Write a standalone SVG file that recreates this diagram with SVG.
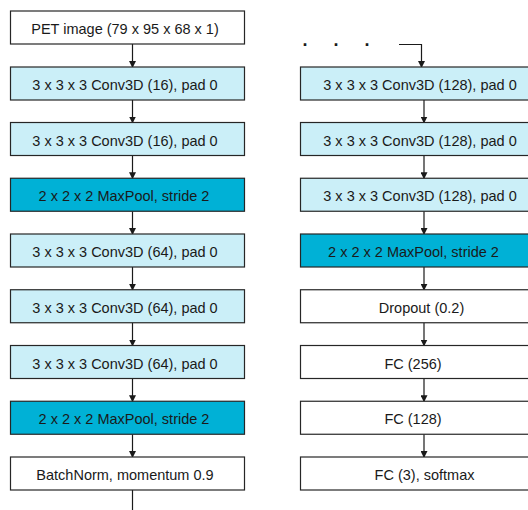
<svg xmlns="http://www.w3.org/2000/svg" width="528" height="510" viewBox="0 0 528 510">
<style>
.b{stroke:#262626;stroke-width:1.2}
.w{fill:#ffffff}
.l{fill:#cbeff8}
.d{fill:#00b1d6}
.t{font-family:"Liberation Sans",Arial,sans-serif;font-size:14.5px;fill:#1a1a1a;text-anchor:middle}
.dots{font-size:18px;font-weight:bold}
.c{stroke:#1a1a1a;stroke-width:1.2;fill:none}
</style>
<defs>
<marker id="ah" markerWidth="7" markerHeight="7" refX="6" refY="3.5" orient="auto" markerUnits="userSpaceOnUse">
<path d="M0,0 L7,3.5 L0,7 Z" fill="#1a1a1a"/>
</marker>
</defs>
<rect width="528" height="510" fill="#ffffff"/>
<g id="connectors">
<line class="c" x1="132.5" y1="44" x2="132.5" y2="67" marker-end="url(#ah)"/>
<line class="c" x1="132.5" y1="100" x2="132.5" y2="122.5" marker-end="url(#ah)"/>
<line class="c" x1="132.5" y1="155.5" x2="132.5" y2="178.25" marker-end="url(#ah)"/>
<line class="c" x1="132.5" y1="211.25" x2="132.5" y2="234" marker-end="url(#ah)"/>
<line class="c" x1="132.5" y1="267" x2="132.5" y2="289.75" marker-end="url(#ah)"/>
<line class="c" x1="132.5" y1="322.75" x2="132.5" y2="345.5" marker-end="url(#ah)"/>
<line class="c" x1="132.5" y1="378.5" x2="132.5" y2="401.25" marker-end="url(#ah)"/>
<line class="c" x1="132.5" y1="434.25" x2="132.5" y2="457" marker-end="url(#ah)"/>
<line class="c" x1="132.5" y1="490" x2="132.5" y2="512"/>
<polyline class="c" points="399,44.5 421.5,44.5 421.5,67" marker-end="url(#ah)"/>
<line class="c" x1="424" y1="100" x2="424" y2="122.5" marker-end="url(#ah)"/>
<line class="c" x1="424" y1="155.5" x2="424" y2="178.25" marker-end="url(#ah)"/>
<line class="c" x1="424" y1="211.25" x2="424" y2="234" marker-end="url(#ah)"/>
<line class="c" x1="424" y1="267" x2="424" y2="289.75" marker-end="url(#ah)"/>
<line class="c" x1="424" y1="322.75" x2="424" y2="345.5" marker-end="url(#ah)"/>
<line class="c" x1="424" y1="378.5" x2="424" y2="401.25" marker-end="url(#ah)"/>
<line class="c" x1="424" y1="434.25" x2="424" y2="457" marker-end="url(#ah)"/>
</g>
<g id="n_pet"><rect class="b w" x="10.5" y="11" width="234" height="33"/><text class="t" x="125" y="34">PET image (79 x 95 x 68 x 1)</text></g>
<g id="n_l1"><rect class="b l" x="10.5" y="67" width="234" height="33"/><text class="t" x="125" y="90">3 x 3 x 3 Conv3D (16), pad 0</text></g>
<g id="n_l2"><rect class="b l" x="10.5" y="122.5" width="234" height="33"/><text class="t" x="125" y="145.5">3 x 3 x 3 Conv3D (16), pad 0</text></g>
<g id="n_l3"><rect class="b d" x="10.5" y="178.25" width="234" height="33"/><text class="t" x="124" y="201.25">2 x 2 x 2 MaxPool, stride 2</text></g>
<g id="n_l4"><rect class="b l" x="10.5" y="234" width="234" height="33"/><text class="t" x="125" y="257">3 x 3 x 3 Conv3D (64), pad 0</text></g>
<g id="n_l5"><rect class="b l" x="10.5" y="289.75" width="234" height="33"/><text class="t" x="125" y="312.75">3 x 3 x 3 Conv3D (64), pad 0</text></g>
<g id="n_l6"><rect class="b l" x="10.5" y="345.5" width="234" height="33"/><text class="t" x="125" y="368.5">3 x 3 x 3 Conv3D (64), pad 0</text></g>
<g id="n_l7"><rect class="b d" x="10.5" y="401.25" width="234" height="33"/><text class="t" x="124" y="424.25">2 x 2 x 2 MaxPool, stride 2</text></g>
<g id="n_l8"><rect class="b w" x="10.5" y="457" width="234" height="33"/><text class="t" x="125" y="480">BatchNorm, momentum 0.9</text></g>
<g id="n_dots"><text class="t dots" x="305 336 367" y="46">...</text></g>
<g id="n_r1"><rect class="b l" x="300.5" y="67" width="240" height="33"/><text class="t" x="420" y="90">3 x 3 x 3 Conv3D (128), pad 0</text></g>
<g id="n_r2"><rect class="b l" x="300.5" y="122.5" width="240" height="33"/><text class="t" x="420" y="145.5">3 x 3 x 3 Conv3D (128), pad 0</text></g>
<g id="n_r3"><rect class="b l" x="300.5" y="178.25" width="240" height="33"/><text class="t" x="420" y="201.25">3 x 3 x 3 Conv3D (128), pad 0</text></g>
<g id="n_r4"><rect class="b d" x="300.5" y="234" width="240" height="33"/><text class="t" x="413.5" y="257">2 x 2 x 2 MaxPool, stride 2</text></g>
<g id="n_r5"><rect class="b w" x="300.5" y="289.75" width="240" height="33"/><text class="t" x="421.5" y="312.75">Dropout (0.2)</text></g>
<g id="n_r6"><rect class="b w" x="300.5" y="345.5" width="240" height="33"/><text class="t" x="413" y="368.5">FC (256)</text></g>
<g id="n_r7"><rect class="b w" x="300.5" y="401.25" width="240" height="33"/><text class="t" x="413" y="424.25">FC (128)</text></g>
<g id="n_r8"><rect class="b w" x="300.5" y="457" width="240" height="33"/><text class="t" x="424.5" y="480">FC (3), softmax</text></g>
</svg>
